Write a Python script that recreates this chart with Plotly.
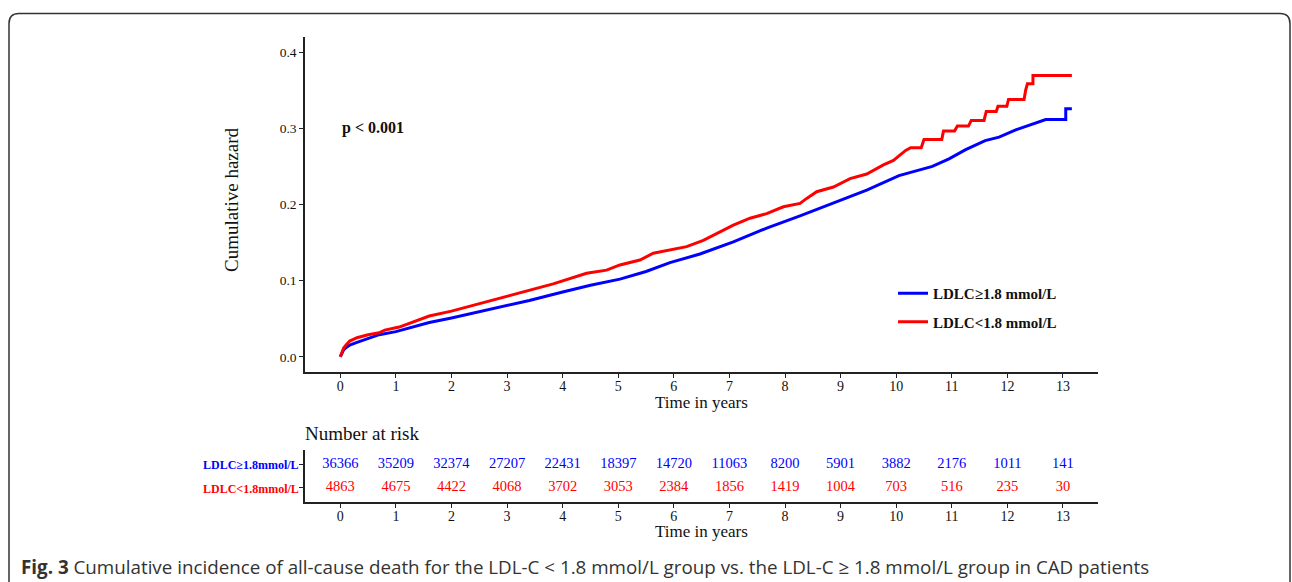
import plotly.graph_objects as go

# ---------------- data ----------------
time_hi = [0, 0.03, 0.06, 0.10, 0.17, 0.30, 0.50, 0.70, 1.00, 1.30, 1.60, 2.00, 2.50, 3.00, 3.40,
           4.00, 4.50, 5.03, 5.50, 5.93, 6.47, 7.07, 7.67, 8.27, 8.87, 9.47, 10.05, 10.65, 10.95,
           11.25, 11.60, 11.85, 12.15, 12.45, 12.69, 13.05, 13.05, 13.16]
chaz_hi = [0, 0.005, 0.009, 0.012, 0.0155, 0.019, 0.024, 0.029, 0.033, 0.039, 0.045, 0.051, 0.059, 0.0675, 0.074,
           0.085, 0.094, 0.102, 0.112, 0.1236, 0.135, 0.151, 0.169, 0.185, 0.2015, 0.219, 0.238, 0.250, 0.260,
           0.272, 0.284, 0.2885, 0.298, 0.306, 0.3117, 0.3117, 0.3257, 0.3257]

time_lo = [0, 0.03, 0.06, 0.10, 0.17, 0.30, 0.50, 0.70, 0.80, 1.06, 1.30, 1.60, 2.00, 2.50, 3.00, 3.23,
           3.83, 4.43, 4.79, 5.03, 5.39, 5.63, 6.23, 6.53, 6.83, 7.07, 7.37, 7.67, 7.97, 8.27, 8.39,
           8.57, 8.87, 9.17, 9.47, 9.77, 9.95, 10.05, 10.17, 10.26, 10.45, 10.50, 10.82, 10.85, 11.05,
           11.10, 11.30, 11.35, 11.58, 11.62, 11.80, 11.83, 11.99, 12.02, 12.30, 12.33, 12.36, 12.46,
           12.46, 13.16]
chaz_lo = [0, 0.006, 0.0115, 0.015, 0.0206, 0.025, 0.029, 0.0315, 0.035, 0.039, 0.045, 0.0535, 0.060, 0.070, 0.080, 0.0845,
           0.0957, 0.1097, 0.1138, 0.1206, 0.127, 0.136, 0.1447, 0.153, 0.164, 0.173, 0.182, 0.188, 0.197, 0.2015, 0.208,
           0.2168, 0.223, 0.234, 0.240, 0.252, 0.258, 0.2645, 0.271, 0.2746, 0.2746, 0.2855, 0.2855, 0.2964, 0.2964,
           0.303, 0.303, 0.3104, 0.3104, 0.3222, 0.3222, 0.329, 0.329, 0.338, 0.338, 0.3507, 0.3585, 0.3585,
           0.3694, 0.3694]

risk_years = list(range(14))
risk_hi = [36366, 35209, 32374, 27207, 22431, 18397, 14720, 11063, 8200, 5901, 3882, 2176, 1011, 141]
risk_lo = [4863, 4675, 4422, 4068, 3702, 3053, 2384, 1856, 1419, 1004, 703, 516, 235, 30]

name_hi = "LDLC≥1.8 mmol/L"
name_lo = "LDLC&lt;1.8 mmol/L"
row_hi = "LDLC≥1.8mmol/L"
row_lo = "LDLC&lt;1.8mmol/L"
y_ticks = [0, 0.1, 0.2, 0.3, 0.4]
y_ticktext = ["0.0", "0.1", "0.2", "0.3", "0.4"]

BLUE = "#0000FF"
RED = "#FF0000"
SERIF = "Liberation Serif"
W, H = 1292, 582


def px(x):
    return x / W


def py(y):
    return (H - y) / H


fig = go.Figure()
fig.add_trace(go.Scatter(x=time_hi, y=chaz_hi, mode="lines", name=name_hi,
                         line=dict(color=BLUE, width=3), legendgroup="a"))
fig.add_trace(go.Scatter(x=time_lo, y=chaz_lo, mode="lines", name=name_lo,
                         line=dict(color=RED, width=3), legendgroup="b"))

fig.add_trace(go.Scatter(x=risk_years, y=[2] * len(risk_years), text=[str(v) for v in risk_hi],
                         mode="text", textfont=dict(family=SERIF, size=14.5, color=BLUE),
                         xaxis="x2", yaxis="y2", showlegend=False, cliponaxis=False))
fig.add_trace(go.Scatter(x=risk_years, y=[1] * len(risk_years), text=[str(v) for v in risk_lo],
                         mode="text", textfont=dict(family=SERIF, size=14.5, color=RED),
                         xaxis="x2", yaxis="y2", showlegend=False, cliponaxis=False))

xrange = [-0.635, 13.63]
axis_common = dict(showline=True, linecolor="#222", linewidth=1.5, ticks="outside", ticklen=4,
                   tickwidth=1.2, tickcolor="#222", showgrid=False, zeroline=False)
xaxis_extra = dict(ticklabelstandoff=-4, tickfont=dict(family=SERIF, size=14, color="#111"))
yfont = dict(family=SERIF, size=13.5, color="#111")

fig.update_layout(
    width=W, height=H, autosize=False,
    margin=dict(l=0, r=0, t=0, b=0),
    paper_bgcolor="white", plot_bgcolor="white",
    font=dict(family=SERIF, color="#111"),
    xaxis=dict(domain=[px(305), px(1098)], range=xrange, tickvals=risk_years, anchor="y",
               **axis_common, **xaxis_extra),
    yaxis=dict(domain=[py(372), py(37)], range=[-0.02, 0.42], tickvals=y_ticks, ticktext=y_ticktext,
               anchor="x", tickfont=yfont, **axis_common),
    xaxis2=dict(domain=[px(305), px(1098)], range=xrange, tickvals=risk_years, anchor="y2",
                **axis_common, **xaxis_extra),
    yaxis2=dict(domain=[py(502), py(450)], range=[0.4, 2.6], tickvals=[1, 2], showticklabels=False,
                anchor="x2", **axis_common),
    legend=dict(x=px(893), y=py(277), xanchor="left", yanchor="top", tracegroupgap=6,
                bgcolor="rgba(0,0,0,0)",
                font=dict(family=SERIF, size=15, color="#111", weight="bold")),
)

ann = [
    dict(text="Cumulative hazard", x=px(231), y=py(200), textangle=-90, font=dict(size=19)),
    dict(text="Time in years", x=px(701), y=py(402), font=dict(size=17)),
    dict(text="Number at risk", x=px(303), y=py(433), xanchor="left", font=dict(size=19)),
    dict(text="Time in years", x=px(701), y=py(531), font=dict(size=17)),
    dict(text="<b>" + row_hi + "</b>", x=px(301), y=py(465), xanchor="right",
         font=dict(size=12, color=BLUE)),
    dict(text="<b>" + row_lo + "</b>", x=px(301), y=py(488.5), xanchor="right",
         font=dict(size=12, color=RED)),
    dict(text="<b>Fig. 3</b> Cumulative incidence of all-cause death for the LDL-C &lt; 1.8 mmol/L group vs. "
              "the LDL-C ≥ 1.8 mmol/L group in CAD patients",
         x=px(19), y=py(567), xanchor="left", font=dict(family="Open Sans", size=18.8, color="#333")),
]
for a in ann:
    a.setdefault("xref", "paper")
    a.setdefault("yref", "paper")
    a.setdefault("showarrow", False)
    a.setdefault("yanchor", "middle")
    a.setdefault("xanchor", "center")
    fig.add_annotation(**a)

fig.add_annotation(text="<b>p &lt; 0.001</b>", x=0, y=0.30, xref="x", yref="y", xanchor="left",
                   yanchor="middle", showarrow=False, font=dict(family=SERIF, size=16, color="#111"))

# rounded frame around the figure
x0, x1, yt, yb = px(9), px(1290), py(13.5), -0.05
rx, ry = 10 / W, 10 / H
frame = (f"M {x0} {yb} L {x0} {yt - ry} Q {x0} {yt} {x0 + rx} {yt} "
         f"L {x1 - rx} {yt} Q {x1} {yt} {x1} {yt - ry} L {x1} {yb}")
fig.add_shape(type="path", path=frame, xref="paper", yref="paper",
              line=dict(color="#333", width=1.5))

fig.write_html("out.html", config={"displayModeBar": False},
               post_script="document.body.style.margin='0';document.body.style.overflow='hidden';")
